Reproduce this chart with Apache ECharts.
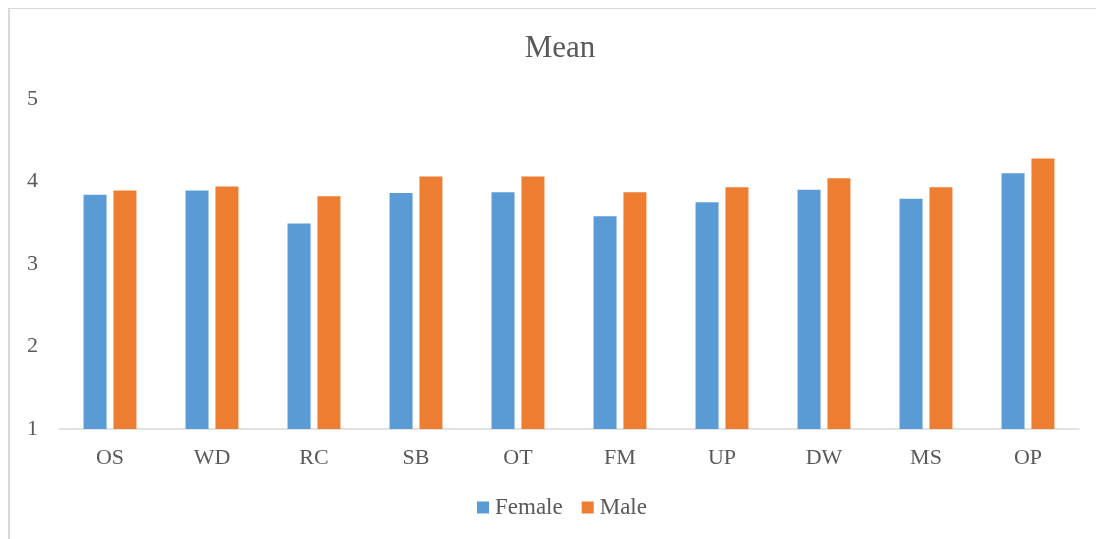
<!DOCTYPE html>
<html>
<head>
<meta charset="utf-8">
<script src="https://cdn.jsdelivr.net/npm/echarts@6/dist/echarts.min.js"></script>
<style>
	html, body { margin: 0; padding: 0; background: #ffffff; }
	#main { position: absolute; left: 0; top: 0; width: 1096px; height: 539px; }
	#frame { position: absolute; left: 8px; top: 8px; width: 1200px; height: 600px;
		border-left: 2px solid #d9d9d9; border-top: 1px solid #d9d9d9; pointer-events: none; }
</style>
</head>
<body>
<div id="main"></div>
<div id="frame"></div>
<script>
	var categories = ['OS', 'WD', 'RC', 'SB', 'OT', 'FM', 'UP', 'DW', 'MS', 'OP'];
	var female = [3.84, 3.89, 3.49, 3.86, 3.87, 3.58, 3.75, 3.90, 3.79, 4.10];
	var male = [3.89, 3.94, 3.82, 4.06, 4.06, 3.87, 3.93, 4.04, 3.93, 4.28];

	var FONT = '"Liberation Serif", "Times New Roman", serif';
	var TEXT = '#595959';

	var chart = echarts.init(document.getElementById('main'));

	chart.setOption({
		backgroundColor: '#ffffff',
		animation: false,

		title: {
			text: 'Mean',
			left: 555,
			textAlign: 'center',
			top: 28,
			textStyle: {
				fontFamily: FONT,
				fontSize: 31,
				fontWeight: 'normal',
				color: TEXT
			}
		},

		legend: {
			data: ['Female', 'Male'],
			left: 477,
			top: 496,
			padding: 0,
			itemWidth: 12,
			itemHeight: 12,
			itemGap: 19,
			icon: 'rect',
			textStyle: {
				fontFamily: FONT,
				fontSize: 23,
				color: TEXT,
				padding: [0, 0, 0, 1]
			}
		},

		grid: {
			left: 59,
			right: 17,
			top: 99,
			bottom: 110,
			containLabel: false
		},

		xAxis: {
			type: 'category',
			data: categories,
			axisLine: { lineStyle: { color: '#d9d9d9', width: 1.5 } },
			axisTick: { show: false },
			axisLabel: {
				fontFamily: FONT,
				fontSize: 22,
				color: TEXT,
				margin: 18
			}
		},

		yAxis: {
			type: 'value',
			min: 1,
			max: 5,
			interval: 1,
			axisLine: { show: false },
			axisTick: { show: false },
			splitLine: { show: false },
			axisLabel: {
				fontFamily: FONT,
				fontSize: 22,
				color: TEXT,
				margin: 21
			}
		},

		series: [
			{
				name: 'Female',
				type: 'bar',
				data: female,
				barWidth: 23,
				barGap: '30%',
				itemStyle: { color: '#5b9bd5' }
			},
			{
				name: 'Male',
				type: 'bar',
				data: male,
				barWidth: 23,
				itemStyle: { color: '#ed7d31' }
			}
		]
	});
</script>
</body>
</html>
